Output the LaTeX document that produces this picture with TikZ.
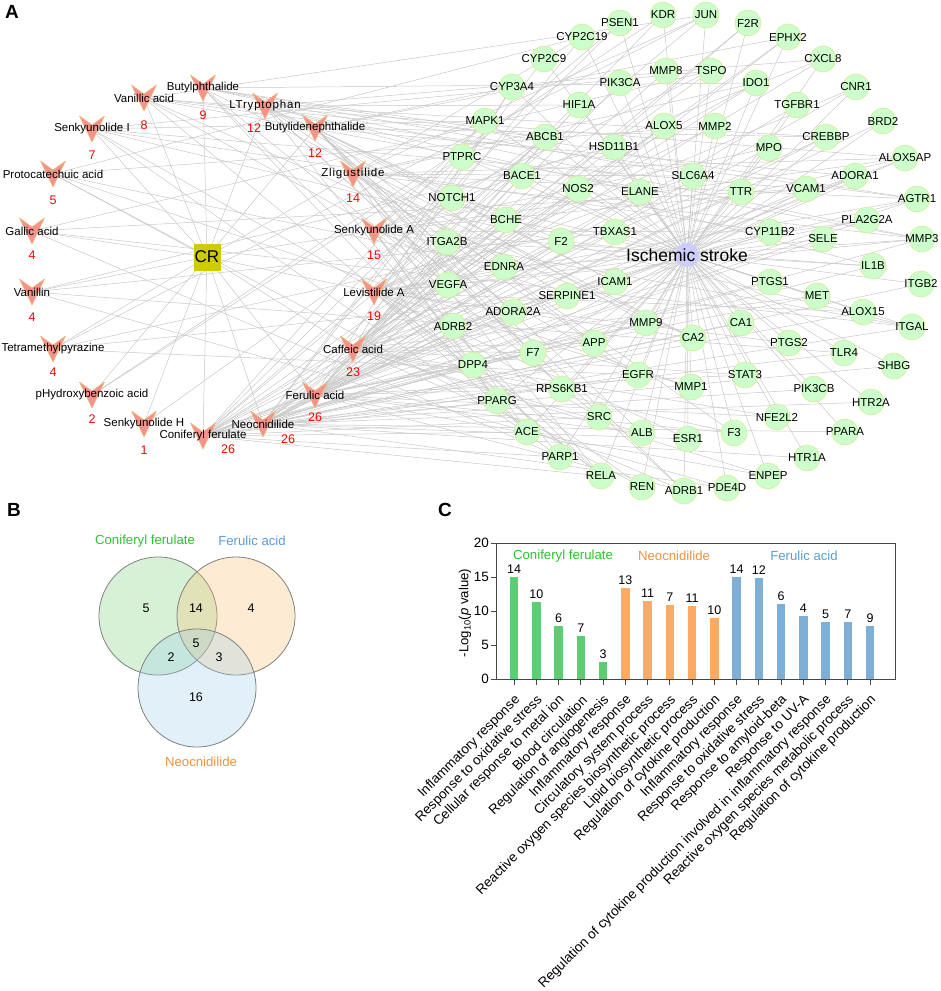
\documentclass[tikz,border=0pt]{standalone}
\usepackage{fontspec}
\setmainfont{Liberation Sans}
\usetikzlibrary{positioning}
\pgfdeclarelayer{bg}
\pgfdeclarelayer{mid}
\pgfsetlayers{bg,mid,main}

\definecolor{edgegray}{RGB}{200,200,200}
\definecolor{tfill}{RGB}{204,255,204}
\definecolor{tline}{RGB}{215,235,150}
\definecolor{sfill}{RGB}{204,204,255}
\definecolor{crfill}{RGB}{204,204,0}
\definecolor{vfill}{RGB}{244,146,140}
\definecolor{vline}{RGB}{240,185,120}
\definecolor{cfgreen}{RGB}{45,195,45}
\definecolor{neoorange}{RGB}{245,145,60}
\definecolor{fablue}{RGB}{90,158,215}
\definecolor{cfbar}{RGB}{95,204,115}
\definecolor{neobar}{RGB}{253,170,100}
\definecolor{fabar}{RGB}{125,175,215}
\definecolor{vgreen}{RGB}{120,210,120}
\definecolor{vorange}{RGB}{250,190,110}
\definecolor{vblue}{RGB}{160,205,235}
\definecolor{axisgray}{RGB}{70,70,70}

\begin{document}
\begin{tikzpicture}[x=1pt,y=-1pt]
	\tikzstyle{edge} = [draw=edgegray, line width=0.5pt]
	\tikzstyle{target} = [draw=tline, fill=tfill, circle, minimum size=26pt, inner sep=0pt, line width=0.6pt]
	\tikzstyle{tlab} = [font=\fontsize{11.5}{13}\selectfont, inner sep=0pt]
	\tikzstyle{ctext} = [font=\fontsize{11.5}{13}\selectfont, inner sep=0pt]
	\tikzstyle{num} = [text=red, font=\fontsize{12.5}{14}\selectfont, inner sep=0pt]
	\tikzstyle{vshape} = [fill=vfill, draw=vline, line width=0.6pt, line join=round]
	\tikzstyle{panel} = [font=\fontsize{19}{21}\selectfont\bfseries, inner sep=0pt]
	\tikzstyle{venn} = [circle, draw=gray, line width=0.8pt, minimum size=118pt, inner sep=0pt, fill opacity=0.3]
	\tikzstyle{vnum} = [font=\fontsize{12.5}{14}\selectfont, inner sep=0pt]
	\tikzstyle{glab} = [font=\fontsize{13.2}{15}\selectfont, inner sep=0pt]
	\tikzstyle{bar} = [rectangle, minimum width=8.5pt, inner sep=0pt, anchor=south]
	\tikzstyle{cnt} = [font=\fontsize{12.5}{14}\selectfont, inner sep=0pt]
	\tikzstyle{axis} = [draw=axisgray, line width=0.9pt]
	\tikzstyle{xlab} = [font=\fontsize{13.5}{15}\selectfont, inner sep=0pt, rotate=45, anchor=east]

	\useasboundingbox (0,0) rectangle (941,991);

	% panel A: network
	\node [panel] (pA) at (12,12) {A};
	\node [draw=none, fill=crfill, minimum size=27pt, inner sep=0pt, font=\fontsize{17}{19}\selectfont] (cr) at (207,257) {CR};
	\node [circle, fill=sfill, minimum size=24pt, inner sep=0pt, label={[font=\fontsize{17.5}{20}\selectfont]center:Ischemic stroke}] (isch) at (687,255) {};

	\node [ctext] (bphth) at (203,88) {Butylphthalide};
	\node [num] at (203,115) {9};
	\node [ctext] (vanac) at (144,98) {Vanillic acid};
	\node [num] at (144,125) {8};
	\node [ctext] (ltrp) at (265,106) {\addfontfeature{LetterSpace=7}LTryptophan};
	\node [num] at (254,128) {12};
	\node [ctext] (bdphth) at (315,128) {Butylidenephthalide};
	\node [num] at (315,153) {12};
	\node [ctext] (senkI) at (92,129) {Senkyunolide I};
	\node [num] at (92,155) {7};
	\node [ctext] (proto) at (53,174) {Protocatechuic acid};
	\node [num] at (53,200) {5};
	\node [ctext] (zlig) at (353,174) {\addfontfeature{LetterSpace=7}Zligustilide};
	\node [num] at (353,198) {14};
	\node [ctext] (gallic) at (32,231) {Gallic acid};
	\node [num] at (32,255) {4};
	\node [ctext] (senkA) at (374,231) {Senkyunolide A};
	\node [num] at (374,255) {15};
	\node [ctext] (vanil) at (32,292) {Vanillin};
	\node [num] at (32,317) {4};
	\node [ctext] (levA) at (374,292) {Levistilide A};
	\node [num] at (374,316) {19};
	\node [ctext] (tmp) at (53,349) {Tetramethylpyrazine};
	\node [num] at (53,372) {4};
	\node [ctext] (caff) at (353,349) {Caffeic acid};
	\node [num] at (353,372) {23};
	\node [ctext] (phba) at (92,395) {pHydroxybenzoic acid};
	\node [num] at (92,419) {2};
	\node [ctext] (ferul) at (315,395) {Ferulic acid};
	\node [num] at (315,417) {26};
	\node [ctext] (senkH) at (144,424) {Senkyunolide H};
	\node [num] at (144,450) {1};
	\node [ctext] (neocn) at (263,424) {Neocnidilide};
	\node [num] at (288,439) {26};
	\node [ctext] (conif) at (203,436) {Coniferyl ferulate};
	\node [num] at (228,449) {26};

	\foreach \g/\x/\y [count=\i] in {PSEN1/620/23, KDR/663/15, JUN/706/15, F2R/748/23, CYP2C19/582/37, EPHX2/788/37, CYP2C9/544/59, CXCL8/823/59, MMP8/666/71, TSPO/711/71, PIK3CA/620/83, IDO1/756/83, CYP3A4/512/87, CNR1/856/87, HIF1A/579/105, TGFBR1/797/105, MAPK1/485/121, BRD2/883/121, ABCB1/545/137, ALOX5/664/126, MMP2/715/126, CREBBP/826/137, HSD11B1/614/147, MPO/769/148, PTPRC/462/157, ALOX5AP/905/158, BACE1/522/176, SLC6A4/693/176, ADORA1/855/176, NOS2/578/189, ELANE/640/192, TTR/741/192, VCAM1/806/189, NOTCH1/452/198, AGTR1/917/199, BCHE/506/220, PLA2G2A/867/220, F2/561/241, TBXAS1/615/232, CYP11B2/770/232, SELE/823/239, MMP3/922/239, ITGA2B/447/242, EDNRA/504/267, ICAM1/615/282, PTGS1/770/282, IL1B/873/266, ITGB2/921/284, SERPINE1/567/296, MET/817/296, VEGFA/448/285, ADORA2A/513/312, ALOX15/863/312, MMP9/646/323, CA1/741/323, ITGAL/912/327, ADRB2/453/326, CA2/693/338, APP/594/343, PTGS2/789/343, F7/533/353, TLR4/844/353, DPP4/473/365, SHBG/894/366, EGFR/638/375, STAT3/745/375, MMP1/691/387, RPS6KB1/562/389, PIK3CB/814/389, PPARG/497/401, HTR2A/871/402, SRC/599/417, NFE2L2/777/417, ACE/527/432, ALB/642/433, ESR1/688/439, F3/734/433, PPARA/845/432, PARP1/560/457, HTR1A/807/458, RELA/601/476, ENPEP/768/476, REN/642/487, ADRB1/684/491, PDE4D/727/488}
		\node [target, alias=t\i, label={[tlab]center:\g}] (\g) at (\x,\y) {};

	\begin{pgfonlayer}{mid}
	\foreach \cmp in {bphth,vanac,ltrp,bdphth,senkI,proto,zlig,gallic,senkA,vanil,levA,tmp,caff,phba,ferul,senkH,neocn,conif}
		\filldraw [vshape] (\cmp.center) ++(-12.5,-13) -- ++(12.5,9) -- ++(12.5,-9) -- ++(-12.5,26) -- cycle;
	\end{pgfonlayer}

	\begin{pgfonlayer}{bg}
	\foreach \cmp/\nt/\sd in {bphth/9/4, vanac/8/11, ltrp/12/23, bdphth/12/37, senkI/7/48, proto/5/59, zlig/14/66, gallic/4/71, senkA/15/2, vanil/4/15, levA/19/29, tmp/4/41, caff/23/53, phba/2/63, ferul/26/7, senkH/1/80, neocn/26/33, conif/26/50} {
		\draw [edge] (cr.center) -- (\cmp.center);
		\foreach \kk in {1,...,\nt} {
			\pgfmathtruncatemacro{\tg}{mod(\sd+23*\kk,85)+1}
			\draw [edge] (\cmp.center) -- (t\tg.center);
		}
	}
	\foreach \i in {1,...,85}
		\draw [edge] (isch.center) -- (t\i.center);
	\end{pgfonlayer}

	% panel B: venn
	\node [panel] (pB) at (14,510) {B};
	\node [venn, fill=vgreen] (vcf) at (158,616) {};
	\node [venn, fill=vorange] (vfa) at (236,616) {};
	\node [venn, fill=vblue] (vneo) at (197,688) {};
	\node [glab, text=cfgreen] at (145,541) {Coniferyl ferulate};
	\node [glab, text=fablue] at (252,541) {Ferulic acid};
	\node [glab, text=neoorange] at (201,762) {Neocnidilide};
	\node [vnum] at (146,608) {5};
	\node [vnum] at (196,608) {14};
	\node [vnum] at (251,608) {4};
	\node [vnum] at (196,643) {5};
	\node [vnum] at (171,657) {2};
	\node [vnum] at (219,657) {3};
	\node [vnum] at (196,697) {16};

	% panel C: bars
	\node [panel] (pC) at (445,510) {C};
	\foreach \val/\nc/\col [count=\i] in {15.0/14/cfbar, 11.3/10/cfbar, 7.7/6/cfbar, 6.3/7/cfbar, 2.4/3/cfbar, 13.4/13/neobar, 11.5/11/neobar, 10.8/7/neobar, 10.7/11/neobar, 9.0/10/neobar, 15.0/14/fabar, 14.8/12/fabar, 11.0/6/fabar, 9.2/4/fabar, 8.3/5/fabar, 8.3/7/fabar, 7.7/9/fabar} {
		\pgfmathsetmacro{\bx}{514+(\i-1)*22.25}
		\node [bar, fill=\col, minimum height={6.8*\val}] (bar\i) at (\bx,679) {};
		\node [cnt, above=3pt of bar\i] {\nc};
		\draw [axis] (\bx,679) -- (\bx,685);
	}
	\draw [axis] (496,543) rectangle (895,679);
	\foreach \yv in {0,5,10,15,20} {
		\draw [axis] (491,679-6.8*\yv) -- (496,679-6.8*\yv);
		\node [glab, font=\fontsize{13.5}{15}\selectfont, anchor=east] at (489,679-6.8*\yv) {\yv};
	}
	\node [glab, rotate=90] (ylab) at (465,613) {-Log\textsubscript{10}(\textit{p} value)};
	\node [glab, text=cfgreen] at (563,556) {Coniferyl ferulate};
	\node [glab, text=neoorange] at (674,556) {Neocnidilide};
	\node [glab, text=fablue] at (804,556) {Ferulic acid};
	\foreach \lab [count=\i] in {Inflammatory response, Response to oxidative stress, Cellular response to metal ion, Blood circulation, Regulation of angiogenesis, Inflammatory response, Circulatory system process, Reactive oxygen species biosynthetic process, Lipid biosynthetic process, Regulation of cytokine production, Inflammatory response, Response to oxidative stress, Response to amyloid-beta, Response to UV-A, Regulation of cytokine production involved in inflammatory response, Reactive oxygen species metabolic process, Regulation of cytokine production}
		\node [xlab] at (518+\i*22.25-22.25,698) {\lab};

\end{tikzpicture}
\end{document}
